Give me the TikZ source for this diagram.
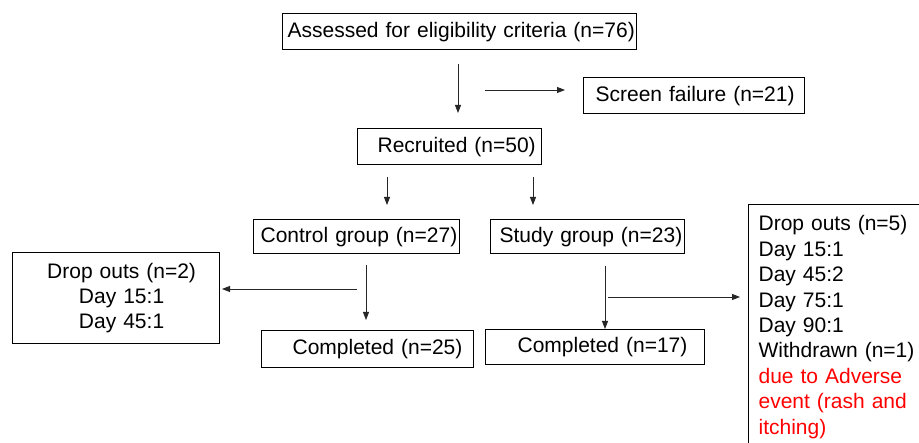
\documentclass[tikz,border=0pt]{standalone}
\usepackage{fontspec}
\setmainfont{Liberation Sans}
\usetikzlibrary{arrows.meta}
\begin{document}
\begin{tikzpicture}[x=1pt,y=-1pt,
  every node/.style={font=\fontsize{21}{25.4}\selectfont},
  box/.style n args={2}{draw, line width=1.2pt, anchor=north west, inner xsep=0pt, inner ysep=0pt,
    text width=#1pt, minimum height=#2pt, align=left},
  arr/.style={line width=0.9pt, color=black!85, -{Triangle[length=8pt,width=6pt]}}]
\useasboundingbox (0,0) rectangle (919,443);
\clip (0,0) rectangle (919,443);
\fill[white] (0,0) rectangle (919,443);
% boxes
\node[box={354}{36}] (assess) at (282,13) {\hspace*{5pt}Assessed for eligibility criteria (n=76)};
\node[box={221}{36}] (screen) at (583,77) {\hspace*{12pt}Screen failure (n=21)};
\node[box={184}{36}] (recr) at (357,128) {\hspace*{20pt}Recruited (n=50)};
\node[box={206}{34}] (ctrl) at (253,219) {\hspace*{7pt}Control group (n=27)};
\node[box={194}{34}] (study) at (490,219) {\hspace*{9pt}Study group (n=23)};
\node[box={212}{37}] (comp25) at (261,330) {\hspace*{31pt}Completed (n=25)};
\node[box={219}{35}] (comp17) at (485,329) {\hspace*{32pt}Completed (n=17)};
\node[draw, line width=1.2pt, anchor=north west, inner sep=0pt, text width=207pt, minimum height=91pt, align=center] (drop2) at (12,252)
  {\hspace*{11pt}Drop outs (n=2)\\\hspace*{11pt}Day 15:1\\\hspace*{11pt}Day 45:1};
\node[draw, line width=1.2pt, anchor=north west, inner xsep=10pt, inner ysep=11pt, text width=175pt, align=left] (drop5) at (748,204)
  {Drop outs (n=5)\\Day 15:1\\Day 45:2\\Day 75:1\\Day 90:1\\Withdrawn (n=1)\\\textcolor{red}{due to Adverse}\\\textcolor{red}{event (rash and}\\\textcolor{red}{itching)}};
% connector end points
\coordinate (a1s) at (458,64);  \coordinate (a1e) at (458,113);
\coordinate (a2s) at (485,90);  \coordinate (a2e) at (565,90);
\coordinate (a3s) at (387,177); \coordinate (a3e) at (387,205);
\coordinate (a4s) at (533,177); \coordinate (a4e) at (533,205);
\coordinate (a5s) at (366,265); \coordinate (a5e) at (366,320);
\coordinate (a6s) at (357,289); \coordinate (a6e) at (222,289);
\coordinate (a7s) at (605,266); \coordinate (a7e) at (605,329);
\coordinate (a8s) at (608,297); \coordinate (a8e) at (740,297);
\draw[arr] (a1s) -- (a1e);
\draw[arr] (a2s) -- (a2e);
\draw[arr] (a3s) -- (a3e);
\draw[arr] (a4s) -- (a4e);
\draw[arr] (a5s) -- (a5e);
\draw[arr] (a6s) -- (a6e);
\draw[arr] (a7s) -- (a7e);
\draw[arr] (a8s) -- (a8e);
\end{tikzpicture}
\end{document}
